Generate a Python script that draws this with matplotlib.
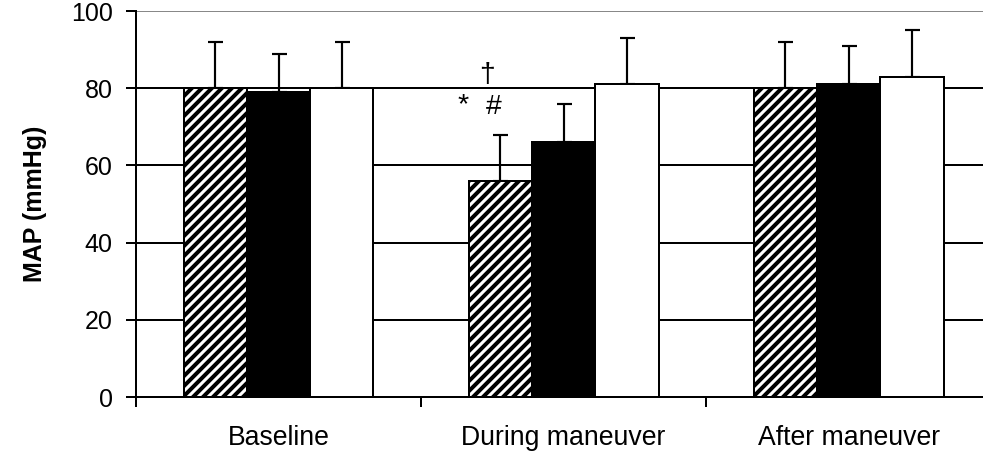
import numpy as np
import matplotlib.pyplot as plt

plt.rcParams["font.family"] = ["Liberation Sans", "DejaVu Sans"]
plt.rcParams["hatch.linewidth"] = 2.4

categories = ["Baseline", "During maneuver", "After maneuver"]
hatched_vals = [80, 56, 80]
hatched_err = [12, 12, 12]
black_vals = [79, 66, 81]
black_err = [10, 10, 10]
white_vals = [80, 81, 83]
white_err = [12, 12, 12]
y_ticks = [0, 20, 40, 60, 80, 100]

# dpi 120 so the hatch spacing matches the reference
fig = plt.figure(figsize=(8.2, 3.775), dpi=120)
ax = fig.add_axes([0.1382, 0.1236, 0.862, 0.852])

x = np.arange(len(categories))
w = 0.222
series = [
    (hatched_vals, hatched_err, "white", "////", -w),
    (black_vals, black_err, "black", None, 0.0),
    (white_vals, white_err, "white", None, w),
]
for vals, errs, color, hatch, off in series:
    ax.bar(x + off, vals, width=w, color=color, edgecolor="black",
           hatch=hatch, linewidth=1.2, zorder=3)
    ax.errorbar(x + off, vals, yerr=[np.zeros(len(vals)), errs], fmt="none",
                ecolor="black", elinewidth=1.3, capsize=4.5, capthick=1.3, zorder=2)

# gridlines
for yv in y_ticks[1:-1]:
    ax.axhline(yv, color="black", linewidth=1.2, zorder=1)
ax.axhline(100, color="#888888", linewidth=1.2, zorder=1)

ax.set_xlim(-0.5, 2.475)
ax.set_ylim(0, 100)
ax.set_yticks(y_ticks)
ax.tick_params(axis="y", direction="out", length=6, width=1.2, labelsize=15, pad=8)

ax.set_xticks(x)
ax.set_xticklabels(categories, fontsize=16)
ax.tick_params(axis="x", which="major", length=0, pad=17)
ax.set_xticks([-0.5, 0.5, 1.5], minor=True)
ax.tick_params(axis="x", which="minor", direction="out", length=6, width=1.2)

for s in ["top", "right"]:
    ax.spines[s].set_visible(False)
ax.spines["left"].set_linewidth(1.2)
ax.spines["bottom"].set_linewidth(1.2)
ax.spines["left"].set_bounds(-2, 100)

ax.set_ylabel("MAP (mmHg)", fontsize=15, fontweight="bold", labelpad=14)

# significance marks
ax.text(0.732, 83.4, "\u2020", fontsize=17, ha="center", va="center", zorder=5)
ax.text(0.647, 75.5, "*", fontsize=17, ha="center", va="center", zorder=5)
ax.text(0.756, 75.1, "#", fontsize=17, ha="center", va="center", zorder=5)

fig.savefig("out.png", dpi=120)
